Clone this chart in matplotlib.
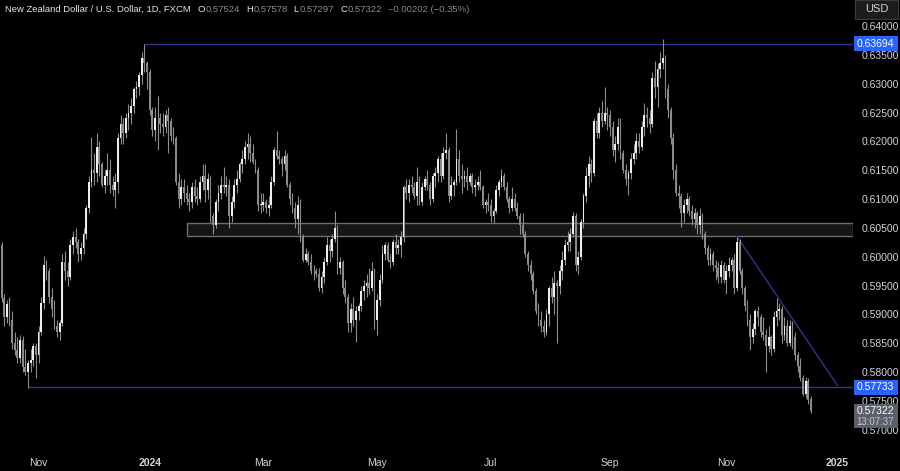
import pandas as pd
import numpy as np
import matplotlib.pyplot as plt
from matplotlib import font_manager
from matplotlib.patches import Rectangle
from matplotlib.transforms import blended_transform_factory


def pick_font(names):
    for name in names:
        try:
            font_manager.findfont(font_manager.FontProperties(family=name), fallback_to_default=False)
            return name
        except ValueError:
            pass
    return 'DejaVu Sans'


FONT = pick_font(['Liberation Sans Narrow', 'Liberation Sans'])
plt.rcParams['font.family'] = [FONT, 'DejaVu Sans']

# NZD/USD daily bars (FXCM), 12 Oct 2023 -> 17 Dec 2024, no bars on 25 Dec / 1 Jan
dates = pd.bdate_range("2023-10-12", "2024-12-17")
dates = dates.drop(pd.to_datetime(["2023-12-25", "2024-01-01"]))

opens = [
    # Oct 23
    .6020, .5928, .5895, .5918, .5890, .5850, .5838, .5825, .5855, .5808, .5800, .5815, .5820, .5845,
    # Nov 23
    .5830, .5870, .5920, .5985, .5975, .5930, .5910, .5880, .5870, .5885, .5990, .5975, .5965, .6020,
    .6035, .6025, .6005, .6015, .6040, .6085, .6130, .6150,
    # Dec 23
    .6145, .6190, .6160, .6125, .6140, .6150, .6125, .6115, .6130, .6205, .6230, .6215, .6240, .6250,
    .6262, .6290, .6295, .6315, .6345, .6335,
    # Jan 24
    .6320, .6255, .6220, .6240, .6240, .6230, .6225, .6245, .6235, .6210, .6205, .6130, .6100, .6120,
    .6110, .6100, .6095, .6120, .6105, .6100, .6130, .6140,
    # Feb 24
    .6115, .6135, .6070, .6055, .6095, .6110, .6125, .6120, .6125, .6070, .6095, .6125, .6135, .6160,
    .6170, .6190, .6195, .6180, .6165, .6150, .6090,
    # Mar 24
    .6090, .6095, .6085, .6090, .6130, .6185, .6175, .6170, .6160, .6175, .6125, .6100, .6085, .6065,
    .6090, .6035, .5995, .6005, .5990, .5975, .5975,
    # Apr 24
    .5970, .5945, .5965, .5990, .6020, .6010, .6030, .6050, .5980, .5990, .5945, .5930, .5885, .5910,
    .5890, .5905, .5915, .5940, .5950, .5955, .5945, .5975,
    # May 24
    .5890, .5925, .5960, .6005, .6020, .5995, .5990, .6025, .6015, .6020, .6035, .6120, .6110, .6125,
    .6120, .6105, .6130, .6095, .6120, .6135, .6125, .6100, .6140,
    # Jun 24
    .6145, .6170, .6140, .6180, .6185, .6105, .6125, .6130, .6170, .6140, .6135, .6140, .6130, .6140,
    .6120, .6125, .6130, .6120, .6090, .6095,
    # Jul 24
    .6090, .6070, .6080, .6115, .6130, .6140, .6120, .6100, .6085, .6100, .6085, .6070, .6055, .6040,
    .6005, .5985, .5970, .5940, .5905, .5890, .5880, .5870, .5900,
    # Aug 24
    .5945, .5930, .5955, .5950, .5975, .5995, .6020, .6025, .6040, .6070, .5985, .6000, .6060, .6105,
    .6140, .6160, .6145, .6235, .6215, .6250, .6235, .6250,
    # Sep 24
    .6245, .6225, .6185, .6195, .6225, .6180, .6150, .6135, .6145, .6170, .6180, .6200, .6190, .6225,
    .6245, .6240, .6230, .6310, .6295, .6325, .6335,
    # Oct 24
    .6345, .6290, .6255, .6205, .6150, .6110, .6105, .6075, .6090, .6100, .6080, .6065, .6075, .6055,
    .6070, .6040, .6015, .5995, .6005, .5985, .5980, .5965, .5985,
    # Nov 24
    .5960, .5975, .5985, .5995, .5945, .6025, .5975, .5945, .5915, .5890, .5860, .5875, .5905, .5895,
    .5870, .5865, .5845, .5860, .5840, .5895, .5905,
    # Dec 24
    .5910, .5865, .5880, .5850, .5880, .5860, .5830, .5810, .5790, .5762, .5785, .57524,
]

highs = [
    .6026, .5935, .5925, .5930, .5905, .5870, .5860, .5865, .5862, .5840, .5820, .5840, .5850, .5850,
    .5880, .5930, .6002, .5995, .5980, .5945, .5925, .5890, .5890, .6005, .6010, .5990, .6030, .6045,
    .6050, .6030, .6025, .6050, .6090, .6140, .6208, .6180,
    .6215, .6200, .6165, .6150, .6180, .6170, .6140, .6145, .6215, .6245, .6240, .6250, .6265, .6275,
    .6295, .6305, .6320, .6355, .6369, .6340,
    .6325, .6260, .6260, .6278, .6250, .6250, .6255, .6260, .6240, .6225, .6210, .6145, .6135, .6135,
    .6125, .6110, .6130, .6135, .6120, .6140, .6160, .6160,
    .6145, .6140, .6075, .6100, .6125, .6140, .6155, .6140, .6135, .6105, .6135, .6150, .6165, .6185,
    .6200, .6215, .6210, .6195, .6170, .6155, .6110,
    .6110, .6100, .6105, .6140, .6190, .6218, .6185, .6175, .6185, .6180, .6130, .6110, .6095, .6105,
    .6100, .6040, .6015, .6010, .6005, .5985, .5980,
    .5980, .5975, .6000, .6035, .6030, .6040, .6080, .6055, .6000, .5995, .5960, .5935, .5920, .5930,
    .5915, .5920, .5950, .5960, .5970, .5980, .5990, .5980,
    .5935, .5970, .6020, .6025, .6025, .6005, .6030, .6040, .6030, .6045, .6125, .6135, .6135, .6140,
    .6130, .6155, .6140, .6130, .6140, .6150, .6130, .6145, .6155,
    .6175, .6180, .6190, .6215, .6190, .6140, .6135, .6222, .6185, .6160, .6150, .6155, .6145, .6145,
    .6135, .6140, .6150, .6125, .6100, .6110,
    .6100, .6085, .6125, .6135, .6152, .6145, .6130, .6105, .6120, .6110, .6095, .6075, .6075, .6045,
    .6010, .5995, .5975, .5945, .5920, .5905, .5890, .5910, .5950,
    .5965, .5975, .5960, .5985, .6010, .6030, .6045, .6050, .6078, .6075, .6010, .6065, .6110, .6155,
    .6175, .6170, .6240, .6250, .6260, .6270, .6295, .6260,
    .6255, .6235, .6210, .6240, .6240, .6185, .6160, .6150, .6180, .6195, .6215, .6215, .6235, .6266,
    .6260, .6255, .6320, .6340, .6335, .6355, .6378,
    .6350, .6300, .6260, .6215, .6160, .6125, .6110, .6100, .6110, .6105, .6090, .6085, .6080, .6085,
    .6075, .6045, .6020, .6015, .6010, .5995, .5990, .5995, .5990,
    .5985, .6000, .6000, .6005, .6035, .6030, .5980, .5950, .5925, .5900, .5885, .5910, .5915, .5900,
    .5895, .5875, .5880, .5865, .5905, .5928, .5920,
    .5915, .5895, .5890, .5890, .5888, .5870, .5835, .5825, .5795, .5792, .5790, .57578,
]

lows = [
    .5922, .5880, .5885, .5880, .5840, .5830, .5815, .5815, .5800, .5795, .5773, .5800, .5810, .5790,
    .5815, .5865, .5910, .5960, .5920, .5895, .5875, .5860, .5856, .5880, .5960, .5950, .5960, .6005,
    .6015, .5990, .5995, .6005, .6030, .6075, .6120, .6125,
    .6130, .6140, .6120, .6110, .6125, .6110, .6105, .6085, .6110, .6195, .6195, .6205, .6220, .6230,
    .6250, .6275, .6280, .6300, .6320, .6290,
    .6245, .6210, .6200, .6185, .6215, .6210, .6215, .6180, .6200, .6195, .6125, .6085, .6090, .6095,
    .6090, .6080, .6085, .6095, .6090, .6095, .6115, .6095,
    .6100, .6060, .6040, .6050, .6080, .6100, .6110, .6105, .6050, .6060, .6085, .6110, .6130, .6145,
    .6160, .6170, .6165, .6160, .6145, .6080, .6075,
    .6080, .6075, .6070, .6085, .6125, .6170, .6160, .6140, .6150, .6120, .6090, .6075, .6050, .6040,
    .6025, .5990, .5990, .5985, .5970, .5960, .5965,
    .5940, .5937, .5955, .5985, .5990, .6000, .6025, .5970, .5970, .5935, .5920, .5870, .5870, .5880,
    .5852, .5890, .5905, .5925, .5930, .5935, .5940, .5875,
    .5865, .5915, .5955, .5995, .5990, .5980, .5985, .6005, .6005, .6000, .6025, .6100, .6095, .6110,
    .6100, .6090, .6090, .6090, .6115, .6115, .6090, .6095, .6120,
    .6130, .6130, .6135, .6170, .6095, .6100, .6105, .6125, .6130, .6110, .6120, .6115, .6125, .6110,
    .6105, .6115, .6115, .6085, .6075, .6080,
    .6060, .6058, .6075, .6105, .6120, .6115, .6095, .6075, .6080, .6080, .6065, .6040, .6035, .6000,
    .5975, .5960, .5935, .5900, .5880, .5870, .5860, .5865, .5880,
    .5920, .5900, .5850, .5935, .5960, .5985, .6010, .6010, .6035, .5975, .5970, .5995, .6050, .6095,
    .6120, .6130, .6140, .6205, .6205, .6225, .6230, .6220,
    .6210, .6175, .6165, .6185, .6170, .6145, .6125, .6107, .6135, .6160, .6170, .6180, .6185, .6210,
    .6225, .6215, .6225, .6275, .6260, .6310, .6325,
    .6275, .6240, .6195, .6135, .6105, .6085, .6051, .6060, .6075, .6070, .6055, .6050, .6040, .6040,
    .6030, .6005, .5985, .5985, .5975, .5960, .5955, .5955, .5955,
    .5935, .5965, .5975, .5935, .5940, .5970, .5935, .5905, .5880, .5838, .5850, .5865, .5880, .5860,
    .5855, .5800, .5835, .5830, .5835, .5880, .5890,
    .5850, .5855, .5845, .5845, .5840, .5820, .5800, .5785, .5758, .5755, .5745, .57297,
]

closes = [
    .5928, .5895, .5918, .5890, .5850, .5838, .5825, .5855, .5808, .5800, .5815, .5820, .5845, .5830,
    .5870, .5920, .5985, .5975, .5930, .5910, .5880, .5870, .5885, .5990, .5975, .5965, .6020, .6035,
    .6025, .6005, .6015, .6040, .6085, .6130, .6150, .6145,
    .6190, .6160, .6125, .6140, .6150, .6125, .6115, .6130, .6205, .6230, .6215, .6240, .6250, .6262,
    .6290, .6295, .6315, .6345, .6335, .6320,
    .6255, .6220, .6240, .6240, .6230, .6225, .6245, .6235, .6210, .6205, .6130, .6100, .6120, .6110,
    .6100, .6095, .6120, .6105, .6100, .6130, .6140, .6115,
    .6135, .6070, .6055, .6095, .6110, .6125, .6120, .6125, .6070, .6095, .6125, .6135, .6160, .6170,
    .6190, .6195, .6180, .6165, .6150, .6090, .6090,
    .6095, .6085, .6090, .6130, .6185, .6175, .6170, .6160, .6175, .6125, .6100, .6085, .6065, .6090,
    .6035, .5995, .6005, .5990, .5975, .5975, .5970,
    .5945, .5965, .5990, .6020, .6010, .6030, .6050, .5980, .5990, .5945, .5930, .5885, .5910, .5890,
    .5905, .5915, .5940, .5950, .5955, .5945, .5975, .5890,
    .5925, .5960, .6005, .6020, .5995, .5990, .6025, .6015, .6020, .6035, .6120, .6110, .6125, .6120,
    .6105, .6130, .6095, .6120, .6135, .6125, .6100, .6140, .6145,
    .6170, .6140, .6180, .6185, .6105, .6125, .6130, .6170, .6140, .6135, .6140, .6130, .6140, .6120,
    .6125, .6130, .6120, .6090, .6095, .6090,
    .6070, .6080, .6115, .6130, .6140, .6120, .6100, .6085, .6100, .6085, .6070, .6055, .6040, .6005,
    .5985, .5970, .5940, .5905, .5890, .5880, .5870, .5900, .5945,
    .5930, .5955, .5950, .5975, .5995, .6020, .6025, .6040, .6070, .5985, .6000, .6060, .6105, .6140,
    .6160, .6145, .6235, .6215, .6250, .6235, .6250, .6245,
    .6225, .6185, .6195, .6225, .6180, .6150, .6135, .6145, .6170, .6180, .6200, .6190, .6225, .6245,
    .6240, .6230, .6310, .6295, .6325, .6335, .6345,
    .6290, .6255, .6205, .6150, .6110, .6105, .6075, .6090, .6100, .6080, .6065, .6075, .6055, .6070,
    .6040, .6015, .5995, .6005, .5985, .5980, .5965, .5985, .5960,
    .5975, .5985, .5995, .5945, .6025, .5975, .5945, .5915, .5890, .5860, .5875, .5905, .5895, .5870,
    .5865, .5845, .5860, .5840, .5895, .5905, .5910,
    .5865, .5880, .5850, .5880, .5860, .5830, .5810, .5790, .5762, .5785, .5752, .57322,
]

# drawn levels
high_level, high_from = 0.63694, "2023-12-28"
low_level, low_from = 0.57733, "2023-10-26"
zone_low, zone_high, zone_from = 0.60359, 0.60589, "2024-01-22"
trend_from, trend_p0, trend_p1, trend_bars = "2024-11-07", 0.6035, 0.5777, 38

month_labels = ["Nov", "2024", "Mar", "May", "Jul", "Sep", "Nov", "2025"]
month_starts = ["2023-11-01", "2024-01-02", "2024-03-01", "2024-05-01",
                "2024-07-01", "2024-09-02", "2024-11-01", "2025-01-02"]

header = "New Zealand Dollar / U.S. Dollar, 1D, FXCM"
ohlc = [("O", "0.57524"), ("H", "0.57578"), ("L", "0.57297"), ("C", "0.57322")]
change = "\u22120.00202 (\u22120.35%)"
countdown = "13:07:37"

assert len(dates) == len(opens) == len(highs) == len(lows) == len(closes)

BG = '#000000'
TXT = '#d1d4dc'
UP = '#eeeeee'
DOWN = '#8a8a8a'
WICK = '#8c8c8c'
LINE = '#2f3590'

fig = plt.figure(figsize=(9, 4.71), dpi=100, facecolor=BG)
ax = fig.add_axes([0, 24 / 471, 853 / 900, 447 / 471], facecolor=BG)

o, h, l, c = (np.array(v) for v in (opens, highs, lows, closes))
x = np.arange(len(c))
up = c >= o
body_lo = np.minimum(o, c)
body_h = np.maximum(np.abs(c - o), 0.00008)

xr = 321.9
ax.set_xlim(-0.57, xr)
ax.set_ylim(0.56700, 0.64451)

# zone and levels
z0 = dates.get_loc(pd.Timestamp(zone_from))
ax.add_patch(Rectangle((z0, zone_low), xr - z0, zone_high - zone_low,
                       facecolor='#151515', edgecolor='#6e6e6e', lw=1, zorder=1))
ax.hlines(high_level, dates.get_loc(pd.Timestamp(high_from)), xr, color=LINE, lw=1, zorder=2)
ax.hlines(low_level, dates.get_loc(pd.Timestamp(low_from)), xr, color=LINE, lw=1, zorder=2)
t0 = dates.get_loc(pd.Timestamp(trend_from))
ax.plot([t0, t0 + trend_bars], [trend_p0, trend_p1], color=LINE, lw=1, zorder=2)

# candles
ax.vlines(x, l, h, color=WICK, lw=0.8, zorder=3)
ax.bar(x[up], body_h[up], bottom=body_lo[up], width=0.68, color=UP, lw=0, zorder=4)
ax.bar(x[~up], body_h[~up], bottom=body_lo[~up], width=0.68, color=DOWN, lw=0, zorder=4)

# axes
for s in ax.spines.values():
    s.set_visible(False)
ax.yaxis.tick_right()
ax.set_yticks(np.arange(0.570, 0.6401, 0.005))
ax.yaxis.set_major_formatter(plt.FuncFormatter(lambda v, _: f"{v:.5f}"))
ax.tick_params(axis='y', length=0, pad=6, labelsize=7.5, labelcolor=TXT)

future = pd.bdate_range(dates[-1], "2025-01-10").drop(pd.to_datetime(["2024-12-25", "2025-01-01"]))
pos = []
for d in month_starts:
    d = pd.Timestamp(d)
    if d in dates:
        pos.append(dates.get_loc(d))
    else:
        pos.append(len(dates) - 1 + future.get_loc(d))
ax.set_xticks(pos, month_labels)
ax.tick_params(axis='x', length=0, pad=8, labelsize=7.5, labelcolor=TXT)
for t in ax.get_xticklabels():
    if t.get_text().isdigit():
        t.set_fontweight('bold')

# price tags on the axis
tr = blended_transform_factory(fig.transFigure, ax.transData)
def tag(price, text, fc, h=0.0026):
    fig.add_artist(Rectangle((853.5 / 900, price - h / 2), 44 / 900, h, transform=tr,
                             facecolor=fc, edgecolor='none', zorder=5))
    fig.text(875.5 / 900, price, text, transform=tr, ha='center', va='center',
             color='white', fontsize=7.5, zorder=6)

tag(high_level, "0.63694", '#2962ff')
tag(low_level, "0.57733", '#2962ff')
fig.add_artist(Rectangle((853.5 / 900, closes[-1] - 0.00295), 44 / 900, 0.0042, transform=tr,
                         facecolor='#5d606b', edgecolor='none', zorder=5))
fig.text(875.5 / 900, closes[-1] + 0.0001, f"{closes[-1]:.5f}", transform=tr, ha='center', va='center',
         color='white', fontsize=7.5, zorder=6)
fig.text(875.5 / 900, closes[-1] - 0.0018, countdown, transform=tr, ha='center', va='center',
         color='#c8c8c8', fontsize=7, zorder=6)

# currency box
fig.add_artist(Rectangle((855 / 900, 1 - 19 / 471), 43 / 900, 19 / 471, transform=fig.transFigure,
                         facecolor='#1c1c1c', edgecolor='#3c3c3c', lw=0.8, zorder=5))
fig.text(876.5 / 900, 1 - 9.5 / 471, "USD", ha='center', va='center', color=TXT, fontsize=8, zorder=6)

# legend line, laid out left to right
renderer = fig.canvas.get_renderer()
ty = 1 - 9 / 471
cursor = 5.0
def put(s, col, gap):
    global cursor
    t = fig.text(cursor / 900, ty, s, ha='left', va='center', color=col, fontsize=6.8)
    cursor += t.get_window_extent(renderer).width + gap

put(header, '#e6e6e6', 7)
for letter, val in ohlc:
    put(letter, '#e6e6e6', 0.5)
    put(val, DOWN, 6)
put(change, DOWN, 0)

fig.savefig("out.png", dpi=100, facecolor=BG)
